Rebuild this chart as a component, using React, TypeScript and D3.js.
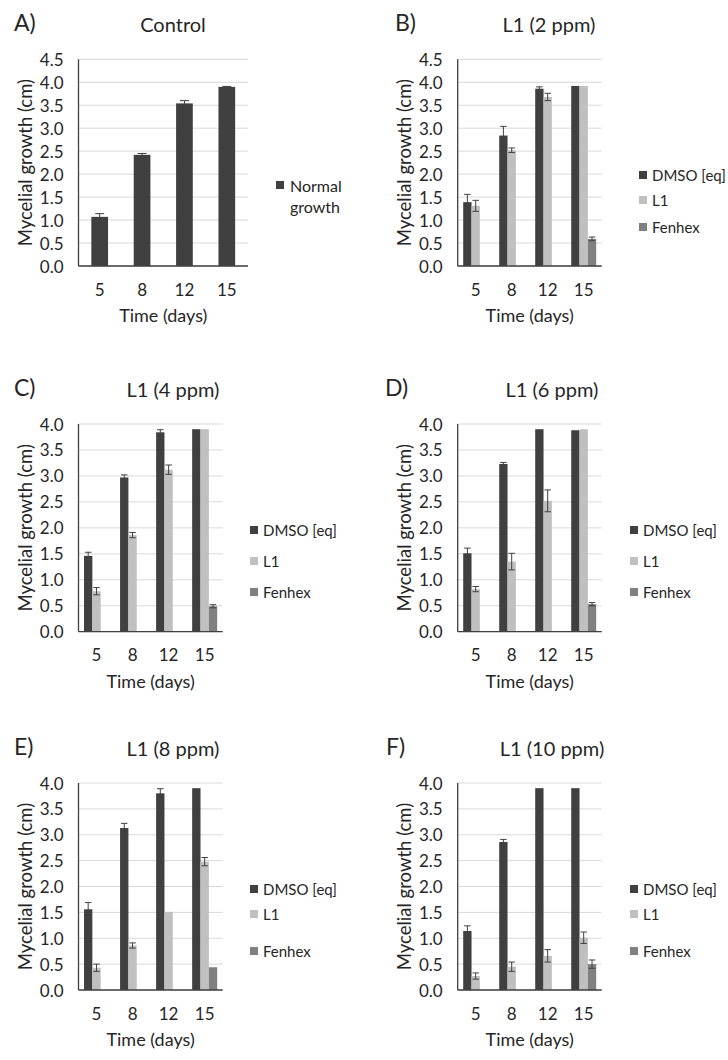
import React from 'react';
import * as d3 from 'd3';

const days = ['5', '8', '12', '15'];
const seriesNames = ['DMSO [eq]', 'L1', 'Fenhex'];
const seriesColors = ['#404040', '#c0c0c0', '#808080'];

const controlMean = [1.07, 2.42, 3.54, 3.9];
const controlErr = [0.07, 0.03, 0.06, 0.01];

const dmso2 = [1.39, 2.84, 3.86, 3.92];
const dmso2Err = [0.17, 0.2, 0.04, 0];
const l1_2 = [1.31, 2.52, 3.68, 3.92];
const l1_2Err = [0.12, 0.05, 0.08, 0];
const fenhex2 = [0, 0, 0, 0.59];
const fenhex2Err = [0, 0, 0, 0.04];

const dmso4 = [1.46, 2.97, 3.84, 3.9];
const dmso4Err = [0.07, 0.05, 0.05, 0];
const l1_4 = [0.78, 1.86, 3.12, 3.9];
const l1_4Err = [0.07, 0.05, 0.09, 0];
const fenhex4 = [0, 0, 0, 0.49];
const fenhex4Err = [0, 0, 0, 0.03];

const dmso6 = [1.51, 3.23, 3.9, 3.88];
const dmso6Err = [0.1, 0.03, 0, 0];
const l1_6 = [0.82, 1.35, 2.52, 3.9];
const l1_6Err = [0.05, 0.16, 0.21, 0];
const fenhex6 = [0, 0, 0, 0.53];
const fenhex6Err = [0, 0, 0, 0.03];

const dmso8 = [1.56, 3.13, 3.8, 3.9];
const dmso8Err = [0.13, 0.09, 0.09, 0];
const l1_8 = [0.43, 0.86, 1.51, 2.48];
const l1_8Err = [0.07, 0.05, 0, 0.08];
const fenhex8 = [0, 0, 0, 0.44];
const fenhex8Err = [0, 0, 0, 0];

const dmso10 = [1.14, 2.86, 3.9, 3.9];
const dmso10Err = [0.1, 0.05, 0, 0];
const l1_10 = [0.27, 0.45, 0.66, 1.01];
const l1_10Err = [0.06, 0.09, 0.12, 0.11];
const fenhex10 = [0, 0, 0, 0.5];
const fenhex10Err = [0, 0, 0, 0.08];

const yTicks45 = [0, 0.5, 1, 1.5, 2, 2.5, 3, 3.5, 4, 4.5];
const yTicks40 = [0, 0.5, 1, 1.5, 2, 2.5, 3, 3.5, 4];

const FONT = 'Lato, "Open Sans", sans-serif';
const TEXT = '#262626';

type Series = { name: string; color: string; values: number[]; err: number[] };
type Panel = {
  label: string;
  title: string;
  ticks: number[];
  series: Series[];
  x0: number; x1: number; top: number; bottom: number;
  titleX: number; labelX: number;
  legendX: number; legendYs: number[];
};

const triple = (v: number[][], e: number[][]): Series[] =>
  seriesNames.map((n, i) => ({ name: n, color: seriesColors[i], values: v[i], err: e[i] }));

const panels: Panel[] = [
  {
    label: 'A)', title: 'Control', ticks: yTicks45,
    series: [{ name: 'Normal growth', color: seriesColors[0], values: controlMean, err: controlErr }],
    x0: 78.5, x1: 248, top: 59.3, bottom: 266, titleX: 173, labelX: 14,
    legendX: 276, legendYs: [185],
  },
  {
    label: 'B)', title: 'L1 (2 ppm)', ticks: yTicks45,
    series: triple([dmso2, l1_2, fenhex2], [dmso2Err, l1_2Err, fenhex2Err]),
    x0: 457.7, x1: 601.7, top: 59.3, bottom: 266, titleX: 549, labelX: 395,
    legendX: 639, legendYs: [175, 200, 227],
  },
  {
    label: 'C)', title: 'L1 (4 ppm)', ticks: yTicks40,
    series: triple([dmso4, l1_4, fenhex4], [dmso4Err, l1_4Err, fenhex4Err]),
    x0: 78.5, x1: 222.7, top: 424, bottom: 631.7, titleX: 173, labelX: 14,
    legendX: 250, legendYs: [530, 561, 592],
  },
  {
    label: 'D)', title: 'L1 (6 ppm)', ticks: yTicks40,
    series: triple([dmso6, l1_6, fenhex6], [dmso6Err, l1_6Err, fenhex6Err]),
    x0: 457.7, x1: 601.7, top: 424, bottom: 631.7, titleX: 552, labelX: 385,
    legendX: 630, legendYs: [530, 561, 592],
  },
  {
    label: 'E)', title: 'L1 (8 ppm)', ticks: yTicks40,
    series: triple([dmso8, l1_8, fenhex8], [dmso8Err, l1_8Err, fenhex8Err]),
    x0: 78.5, x1: 222.7, top: 783, bottom: 990, titleX: 173, labelX: 14,
    legendX: 250, legendYs: [889, 914, 951],
  },
  {
    label: 'F)', title: 'L1 (10 ppm)', ticks: yTicks40,
    series: triple([dmso10, l1_10, fenhex10], [dmso10Err, l1_10Err, fenhex10Err]),
    x0: 457.7, x1: 601.7, top: 783, bottom: 990, titleX: 552, labelX: 386,
    legendX: 630, legendYs: [889, 914, 951],
  },
];

function PanelChart({ p }: { p: Panel }) {
  const yMax = p.ticks[p.ticks.length - 1];
  const y = d3.scaleLinear().domain([0, yMax]).range([p.bottom, p.top]);
  const single = p.series.length === 1;
  const pad = single ? 0.606 : 0.306;
  const x = d3.scaleBand<string>().domain(days).range([p.x0, p.x1]).paddingInner(pad).paddingOuter(pad / 2);
  const xs = d3.scaleBand<number>().domain(p.series.map((_, i) => i)).range([0, x.bandwidth()]).padding(0);
  const bw = xs.bandwidth();
  const capW = single ? 9 : 6.5;
  const cx = (p.x0 + p.x1) / 2;
  const cy = (p.top + p.bottom) / 2;
  return (
    <g>
      {p.ticks.map((t) => (
        <line key={'g' + t} x1={p.x0} x2={p.x1} y1={y(t)} y2={y(t)} stroke="#d9d9d9" strokeWidth={1} />
      ))}
      {p.series.map((s, si) =>
        s.values.map((v, di) =>
          v > 0 ? (
            <rect key={`b${si}-${di}`} x={(x(days[di]) as number) + (xs(si) as number)} y={y(v)}
              width={bw} height={y(0) - y(v)} fill={s.color} />
          ) : null
        )
      )}
      {p.series.map((s, si) =>
        s.values.map((v, di) => {
          const e = s.err[di];
          if (!(v > 0) || !(e > 0)) return null;
          const bx = (x(days[di]) as number) + (xs(si) as number) + bw / 2;
          return (
            <g key={`e${si}-${di}`} stroke="#404040" strokeWidth={1}>
              <line x1={bx} x2={bx} y1={y(v + e)} y2={y(v - e)} />
              <line x1={bx - capW / 2} x2={bx + capW / 2} y1={y(v + e)} y2={y(v + e)} />
              <line x1={bx - capW / 2} x2={bx + capW / 2} y1={y(v - e)} y2={y(v - e)} />
            </g>
          );
        })
      )}
      <line x1={p.x0} x2={p.x0} y1={p.top} y2={p.bottom} stroke="#404040" strokeWidth={1.3} />
      <line x1={p.x0} x2={p.x1} y1={p.bottom} y2={p.bottom} stroke="#404040" strokeWidth={1.3} />
      {p.ticks.map((t) => (
        <text key={'t' + t} x={p.x0 - 15} y={y(t)} textAnchor="end" dominantBaseline="central"
          fontSize={17} fill={TEXT}>{d3.format('.1f')(t)}</text>
      ))}
      {days.map((d) => (
        <text key={'x' + d} x={(x(d) as number) + x.bandwidth() / 2} y={p.bottom + 23}
          textAnchor="middle" dominantBaseline="central" fontSize={17} fill={TEXT}>{d}</text>
      ))}
      <text x={cx} y={p.bottom + 49} textAnchor="middle" dominantBaseline="central" fontSize={18} fill={TEXT}>
        Time (days)
      </text>
      <text transform={`translate(${p.x0 - 54},${cy}) rotate(-90)`} textAnchor="middle"
        dominantBaseline="central" fontSize={18.5} fill={TEXT}>Mycelial growth (cm)</text>
      <text x={p.labelX} y={p.top - 28} fontSize={23} fill={TEXT}>{p.label}</text>
      <text x={p.titleX} y={p.top - 27} textAnchor="middle" fontSize={20} fill={TEXT}>{p.title}</text>
      {single ? (
        <g>
          <rect x={p.legendX} y={p.legendYs[0] - 4} width={8} height={8} fill={p.series[0].color} />
          <text x={p.legendX + 14} y={p.legendYs[0]} dominantBaseline="central" fontSize={16} fill={TEXT}>Normal</text>
          <text x={p.legendX + 14} y={p.legendYs[0] + 21} dominantBaseline="central" fontSize={16} fill={TEXT}>growth</text>
        </g>
      ) : (
        p.series.map((s, si) => (
          <g key={'l' + si}>
            <rect x={p.legendX} y={p.legendYs[si] - 4} width={8} height={8} fill={s.color} />
            <text x={p.legendX + 13} y={p.legendYs[si]} dominantBaseline="central" fontSize={15} fill={TEXT}>{s.name}</text>
          </g>
        ))
      )}
    </g>
  );
}

export default function App() {
  return (
    <svg width={728} height={1060} viewBox="0 0 728 1060"
      style={{ position: 'absolute', left: 0, top: 0, background: '#fff', fontFamily: FONT }}>
      <rect width={728} height={1060} fill="#fff" />
      {panels.map((p) => <PanelChart key={p.label} p={p} />)}
    </svg>
  );
}
